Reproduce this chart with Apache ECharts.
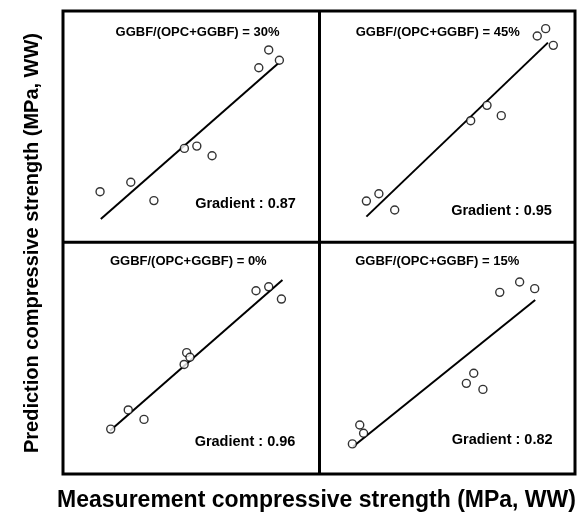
<!DOCTYPE html>
<html>
<head>
<meta charset="utf-8">
<script src="https://cdn.jsdelivr.net/npm/echarts@6/dist/echarts.min.js"></script>
<style>
html,body{margin:0;padding:0;background:#fff;}
#c{width:580px;height:513px;}
</style>
</head>
<body>
<div id="c"></div>
<script>
// Panel titles and gradients
const panelTitles = ['GGBF/(OPC+GGBF) = 30%', 'GGBF/(OPC+GGBF) = 45%', 'GGBF/(OPC+GGBF) = 0%', 'GGBF/(OPC+GGBF) = 15%'];
const gradients = ['Gradient : 0.87', 'Gradient : 0.95', 'Gradient : 0.96', 'Gradient : 0.82'];

// Scatter points [measurement, prediction] in relative units (0-100)
const pts30 = [[13.8,21.1],[25.9,25.2],[35.0,17.2],[47.0,40.0],[51.9,41.0],[57.9,36.8],[76.3,75.2],[80.2,83.0],[84.4,78.5]];
const pts45 = [[17.8,17.0],[22.7,20.2],[28.9,13.1],[58.7,52.1],[65.1,58.8],[70.7,54.3],[84.8,89.1],[88.1,92.3],[91.1,85.0]];
const pts0  = [[18.0,19.0],[24.9,27.3],[31.1,23.2],[46.9,47.0],[47.9,52.1],[49.2,50.1],[75.2,78.9],[80.2,80.6],[85.2,75.3]];
const pts15 = [[12.3,12.6],[15.2,20.8],[16.7,17.2],[57.0,38.8],[59.9,43.2],[63.5,36.2],[70.1,78.2],[77.9,82.7],[83.8,79.8]];

// Fitted lines (end points)
const fit30 = [[14.1,9.2],[84.0,77.2]];
const fit45 = [[17.8,10.2],[89.0,86.2]];
const fit0  = [[17.7,18.3],[85.6,83.5]];
const fit15 = [[12.5,11.4],[84.0,74.9]];

const allPts = [pts30, pts45, pts0, pts15];
const allFits = [fit30, fit45, fit0, fit15];

const grids = [
  {left:65, top:11, width:254, height:229},
  {left:321, top:11, width:255, height:229},
  {left:65, top:242, width:254, height:231},
  {left:321, top:242, width:255, height:231}
];
const titlePos = [[197.5,32],[437.7,32.5],[188.3,261.7],[437.2,261.7]];
const gradPos = [[245.5,204],[501.5,210.5],[245,441.5],[502.2,440]];

const chart = echarts.init(document.getElementById('c'), null, {renderer:'canvas'});
const xAxes = [], yAxes = [], series = [], graphics = [];
grids.forEach((g,i)=>{
  xAxes.push({type:'value', gridIndex:i, min:0, max:100, show:false});
  yAxes.push({type:'value', gridIndex:i, min:0, max:100, show:false});
  series.push({type:'line', xAxisIndex:i, yAxisIndex:i, data:allFits[i], symbol:'none',
    lineStyle:{color:'#000', width:2}, silent:true, z:2});
  series.push({type:'scatter', xAxisIndex:i, yAxisIndex:i, data:allPts[i], symbol:'circle', symbolSize:8,
    itemStyle:{color:'#fff', borderColor:'#000', borderWidth:1.4}, z:3});
  graphics.push({type:'text', x:titlePos[i][0], y:titlePos[i][1],
    style:{text:panelTitles[i], font:'bold 13px "Liberation Sans", Arial, sans-serif', fill:'#000', textAlign:'center', textVerticalAlign:'middle'}});
  graphics.push({type:'text', x:gradPos[i][0], y:gradPos[i][1],
    style:{text:gradients[i], font:'bold 14.5px "Liberation Sans", Arial, sans-serif', fill:'#000', textAlign:'center', textVerticalAlign:'middle'}});
});
// frame
graphics.push({type:'rect', shape:{x:63, y:11, width:512, height:463}, style:{fill:null, stroke:'#000', lineWidth:3}, z:10});
graphics.push({type:'line', shape:{x1:319.5, y1:11, x2:319.5, y2:474}, style:{stroke:'#000', lineWidth:3}, z:10});
graphics.push({type:'line', shape:{x1:63, y1:242.3, x2:575, y2:242.3}, style:{stroke:'#000', lineWidth:3}, z:10});
// axis titles
graphics.push({type:'text', x:316.5, y:501, style:{text:'Measurement compressive strength (MPa, WW)', font:'bold 23px "Liberation Sans", Arial, sans-serif', fill:'#000', textAlign:'center', textVerticalAlign:'middle'}});
graphics.push({type:'text', x:32, y:243, rotation:Math.PI/2, style:{text:'Prediction compressive strength (MPa, WW)', font:'bold 20px "Liberation Sans", Arial, sans-serif', fill:'#000', textAlign:'center', textVerticalAlign:'middle'}});

chart.setOption({
  animation:false,
  backgroundColor:'#fff',
  grid:grids,
  xAxis:xAxes,
  yAxis:yAxes,
  series:series,
  graphic:graphics
});
</script>
</body>
</html>
